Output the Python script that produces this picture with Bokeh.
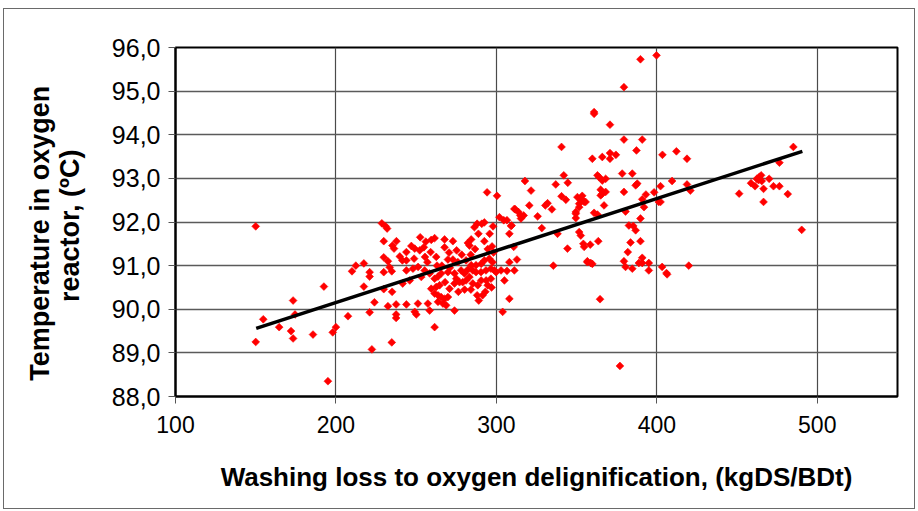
import math

from bokeh.plotting import figure
from bokeh.models import Range1d, FixedTicker, CustomJSTickFormatter
from bokeh.embed import file_html
from bokeh.resources import INLINE

# Washing loss to oxygen delignification (kgDS/BDt) and oxygen reactor temperature (ºC)
washing_loss = [
    150.0, 150.0, 154.7, 164.6, 172.0, 173.3, 174.5, 173.3, 185.7, 192.5, 195.0, 198.0, 200.0,
    207.5, 210.0, 212.4, 217.4, 217.4, 221.0, 221.0, 221.0, 222.4, 224.0,
    228.6, 231.0, 231.9, 229.8, 237.7, 235.2, 236.2, 229.8, 232.4, 233.5, 234.8, 229.8, 239.8,
    241.4, 243.9, 243.9, 229.8, 235.0, 241.6, 243.9, 232.4, 237.5, 243.9, 237.5, 237.5, 234.8,
    294.2, 300.4, 286.3, 288.0, 290.9, 292.5, 288.8, 295.8, 297.9, 282.2, 284.3, 283.2, 286.7,
    292.5, 294.6, 297.3, 259.4, 261.5, 267.7, 272.9, 267.7, 249.1, 252.2, 254.8, 248.7, 251.2,
    248.0, 257.0, 259.0, 262.5, 263.6, 269.8, 272.9, 276.0, 281.1, 284.3, 287.3, 290.5, 292.5,
    295.6, 297.6, 255.3, 246.0, 253.2, 258.4, 261.5, 265.6, 269.8, 273.9, 278.0, 280.1, 282.2,
    285.3, 287.3, 290.4, 293.5, 296.6, 298.8, 299.8, 259.4, 262.5, 264.6, 261.5, 263.6, 265.6,
    267.7, 263.6, 266.7, 268.7, 269.8, 270.8, 273.9, 275.0, 277.0, 279.0, 281.1, 283.2, 285.3,
    288.4, 290.5, 293.6, 294.6, 296.6, 288.0, 291.4, 273.9, 261.5, 251.1, 257.3, 258.4, 249.1,
    250.1, 270.5, 275.2, 278.4, 266.0, 271.0, 276.3, 280.2, 284.1, 289.0, 293.1, 297.0, 298.2,
    284.0, 268.0, 263.0, 255.5, 256.0, 252.5, 247.0,
    301.9, 304.6, 306.6, 309.5, 311.2, 302.9, 311.2, 305.0, 308.1, 303.9, 308.1, 309.1, 308.1,
    310.8, 312.8, 306.6, 313.7, 314.9, 317.0, 315.3, 311.8, 317.8, 321.6, 320.5,
    325.7, 328.3, 330.5, 331.9, 334.6, 337.0, 342.0, 344.5, 340.6, 340.6, 343.3, 338.1, 335.5,
    344.3, 349.5, 349.5, 350.5, 351.6, 352.6, 353.5, 354.7, 355.6, 353.0, 351.6, 352.6, 354.2,
    354.7, 358.5, 363.5, 356.7, 359.8, 358.8, 351.6, 349.5,
    359.8, 366.0, 370.8, 370.8, 374.5, 360.9, 360.9, 370.8, 379.5, 389.8, 399.8, 379.5, 390.9,
    387.3, 403.5, 412.2, 418.8, 363.0, 364.0, 368.1, 366.0, 378.4, 384.7, 387.8, 386.8, 365.0,
    366.0, 368.1, 365.0, 379.5, 402.3, 398.3, 393.2, 390.9, 401.2, 402.3, 392.0, 389.8, 380.5,
    367.1, 360.9, 363.0, 382.6, 385.3, 386.8, 383.6, 389.8, 381.9, 356.7, 379.5, 380.5, 384.7,
    388.8, 390.9, 390.9, 395.0, 395.0, 403.3, 406.0, 406.4, 419.9, 364.6, 377.0, 409.5, 418.8,
    420.9,
    451.3, 458.7, 461.2, 462.3, 463.8, 465.0, 465.4, 466.5, 470.0, 472.7, 476.4, 481.6, 466.5,
    463.4, 485.1, 476.4, 490.3,
]
temperature = [
    91.90, 89.25, 89.77, 89.59, 89.50, 89.33, 89.88, 90.20, 89.42, 90.52, 88.35, 89.47, 89.59,
    89.84, 90.87, 91.00, 91.05, 90.52, 90.85, 90.75, 89.93, 89.08, 90.16,
    91.97, 91.90, 91.85, 91.56, 91.56, 91.46, 91.39, 91.19, 91.10, 90.96, 90.87, 90.85, 91.21,
    91.12, 91.12, 91.31, 90.46, 90.40, 90.59, 90.89, 90.07, 90.11, 90.11, 89.88, 89.80, 89.24,
    92.68, 92.60, 91.88, 91.96, 91.96, 91.99, 91.73, 91.73, 91.90, 91.52, 91.60, 91.46, 91.38,
    91.56, 91.38, 91.44, 91.59, 91.63, 91.60, 91.56, 91.42, 91.39, 91.35, 91.42, 91.16, 90.97,
    90.93, 91.08, 91.31, 91.20, 90.75, 91.14, 91.14, 91.08, 91.12, 91.01, 91.01, 91.04, 91.12,
    91.16, 91.08, 90.89, 90.66, 90.74, 90.82, 90.70, 90.82, 90.85, 90.82, 90.89, 90.82, 90.91,
    90.89, 90.85, 90.85, 90.89, 90.93, 90.89, 90.85, 90.47, 90.51, 90.55, 90.36, 90.32, 90.28,
    90.24, 90.17, 90.13, 90.09, 90.28, 90.47, 90.59, 90.70, 90.62, 90.62, 90.66, 90.74, 90.59,
    90.55, 90.66, 90.66, 90.55, 90.70, 90.32, 90.32, 89.97, 89.59, 90.13, 90.13, 89.97, 89.94,
    89.88, 91.30, 91.35, 91.25, 91.00, 90.95, 90.40, 90.45, 90.45, 90.20, 90.40, 90.50, 91.30,
    91.25, 90.62, 91.00, 91.20, 91.55, 91.65, 91.45,
    92.11, 92.04, 92.04, 91.92, 92.30, 90.89, 90.89, 90.66, 91.08, 89.94, 90.24, 91.91, 91.73,
    91.43, 91.14, 90.88, 92.23, 92.15, 92.15, 92.08, 92.29, 92.94, 92.72, 92.38,
    92.13, 91.86, 92.38, 92.43, 92.29, 92.86, 93.07, 92.90, 93.72, 92.59, 92.51, 91.73, 91.00,
    91.39, 92.19, 92.09, 92.57, 92.42, 92.50, 92.60, 92.46, 92.46, 92.53, 91.77, 91.69, 91.50,
    91.43, 91.48, 91.56, 91.08, 91.04, 91.06, 92.34, 92.23,
    93.45, 93.49, 93.58, 93.45, 93.54, 94.52, 94.48, 94.23, 95.09, 95.73, 95.82, 93.89, 93.89,
    93.64, 93.54, 93.62, 93.45, 93.07, 93.03, 92.99, 92.95, 93.11, 93.11, 92.88, 92.84, 92.74,
    92.65, 92.69, 92.61, 92.69, 92.82, 92.68, 92.63, 92.52, 92.46, 92.46, 92.34, 92.08, 92.24,
    92.38, 92.21, 92.17, 91.92, 91.91, 91.81, 91.53, 91.56, 91.31, 91.10, 91.10, 90.97, 90.93,
    91.06, 91.18, 91.06, 91.06, 90.89, 90.97, 90.83, 90.80, 91.00, 90.23, 88.70, 92.94, 92.86,
    92.72,
    92.65, 92.89, 92.82, 92.99, 93.03, 93.07, 92.94, 92.76, 92.99, 92.82, 92.82, 92.64, 92.46,
    92.96, 93.72, 93.36, 91.82,
]

# Linear trend line end points
trend_x = [150.3, 490.7]
trend_y = [89.56, 93.62]

x_ticks = [100, 200, 300, 400, 500]
y_ticks = [88, 89, 90, 91, 92, 93, 94, 95, 96]

FONT = "Liberation Sans"

p = figure(
    width=910, height=499,
    x_range=Range1d(100, 550), y_range=Range1d(88, 96),
    output_backend="svg", toolbar_location=None,
    min_border_left=171, min_border_right=17,
    min_border_top=38, min_border_bottom=112,
    background_fill_color="white", border_fill_color="white",
)
p.margin = (9, 0, 0, 4)
p.styles = {"outline": "1px solid #6a6a6a"}

p.outline_line_color = "black"
p.outline_line_width = 2
p.outline_line_alpha = 1

# grid
p.xgrid.ticker = FixedTicker(ticks=x_ticks)
p.ygrid.ticker = FixedTicker(ticks=y_ticks)
p.xgrid.grid_line_color = "#4a4a4a"
p.ygrid.grid_line_color = "#5a5a5a"
p.xgrid.grid_line_width = 1.2
p.ygrid.grid_line_width = 1.3

# axes
for ax in (p.xaxis[0], p.yaxis[0]):
    ax.axis_line_color = "black"
    ax.axis_line_width = 2
    ax.major_tick_line_color = "#555555"
    ax.major_tick_line_width = 1
    ax.major_tick_in = 0
    ax.major_tick_out = 7
    ax.minor_tick_line_color = None
    ax.major_label_text_font = FONT
    ax.major_label_text_color = "black"
    ax.axis_label_text_font = FONT
    ax.axis_label_text_font_style = "bold"
    ax.axis_label_text_color = "black"

p.xaxis.major_label_text_font_size = "23px"
p.yaxis.major_label_text_font_size = "25px"
p.xaxis.axis_label_text_font_size = "26px"
p.yaxis.axis_label_text_font_size = "27px"
p.yaxis.axis_label_text_line_height = 1.0

p.xaxis.ticker = FixedTicker(ticks=x_ticks)
p.yaxis.ticker = FixedTicker(ticks=y_ticks)
p.yaxis.formatter = CustomJSTickFormatter(code="return tick.toFixed(1).replace('.', ',');")
p.xaxis.major_label_standoff = 12
p.yaxis.major_label_standoff = 8
p.xaxis.axis_label = "Washing loss to oxygen delignification, (kgDS/BDt)"
p.yaxis.axis_label = "Temperature in oxygen\u00a0\u00a0\u00a0\nreactor, (ºC)\u00a0"
p.xaxis.axis_label_standoff = 26
p.yaxis.axis_label_standoff = 24

# data points: diamonds drawn as squares turned 45 degrees
p.scatter(washing_loss, temperature, marker="square", angle=math.pi / 4, size=5.5,
          fill_color="#ff0000", line_color="#ff0000", line_width=0.6)

# trend line
p.line(trend_x, trend_y, line_color="black", line_width=3.5)

open("out.html", "w").write(file_html(p, INLINE))
